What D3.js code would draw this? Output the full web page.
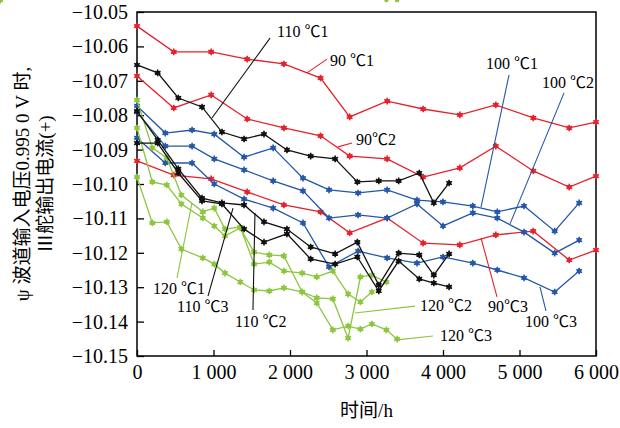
<!DOCTYPE html>
<html>
<head>
<meta charset="utf-8">
<script src="https://cdn.jsdelivr.net/npm/d3@7"></script>
<style>
body { margin: 0; background: #fff; }
svg { display: block; font-family: "Liberation Serif", "Noto Sans CJK SC", serif; }
</style>
</head>
<body>
<main></main>
<script>
// Часы наработки для каждой группы температур
const hours_90 = [0, 480, 970, 1440, 1920, 2400, 2780, 3270, 3740, 4220, 4690, 5180, 5650, 6000];
const hours_100 = [0, 370, 720, 1010, 1400, 1780, 2170, 2510, 2890, 3270, 3660, 4000, 4390, 4710, 5060, 5460, 5780];
const hours_110 = [0, 270, 540, 850, 1110, 1400, 1660, 1960, 2270, 2590, 2880, 3160, 3420, 3690, 3880, 4080];
const hours_120 = [0, 200, 390, 580, 860, 1010, 1150, 1350, 1530, 1730, 1920, 2160, 2350, 2560, 2760, 2920, 3070, 3260, 3400];

const v_90_1 = [-10.0541, -10.0616, -10.0616, -10.0637, -10.0651, -10.0692, -10.0805, -10.0759, -10.0782, -10.0799, -10.0770, -10.0808, -10.0837, -10.0820];
const v_90_2 = [-10.0686, -10.0779, -10.0741, -10.0811, -10.0837, -10.0860, -10.0919, -10.0927, -10.0980, -10.0953, -10.0890, -10.0962, -10.1009, -10.0977];
const v_90_3 = [-10.0933, -10.0974, -10.0985, -10.1023, -10.1061, -10.1081, -10.1142, -10.1099, -10.1172, -10.1177, -10.1148, -10.1137, -10.1221, -10.1192];

const v_100_1 = [-10.0773, -10.0852, -10.0843, -10.0855, -10.0922, -10.0895, -10.0983, -10.1017, -10.1026, -10.1017, -10.1047, -10.1052, -10.1064, -10.1081, -10.1064, -10.1137, -10.1055];
const v_100_2 = [-10.0791, -10.0890, -10.0890, -10.0927, -10.0959, -10.0991, -10.1020, -10.1099, -10.1090, -10.1099, -10.1058, -10.1122, -10.1084, -10.1099, -10.1140, -10.1201, -10.1163];
const v_100_3 = [-10.0866, -10.0939, -10.0939, -10.1000, -10.1044, -10.1070, -10.1113, -10.1241, -10.1195, -10.1215, -10.1230, -10.1212, -10.1230, -10.1250, -10.1273, -10.1314, -10.1253];

const v_110_1 = [-10.0654, -10.0677, -10.0750, -10.0776, -10.0849, -10.0869, -10.0855, -10.0901, -10.0919, -10.0927, -10.0994, -10.0991, -10.0991, -10.0968, -10.1055, -10.0997];
const v_110_2 = [-10.0788, -10.0872, -10.0956, -10.1041, -10.1055, -10.1061, -10.1110, -10.1131, -10.1183, -10.1203, -10.1169, -10.1294, -10.1201, -10.1206, -10.1265, -10.1203];
const v_110_3 = [-10.0881, -10.0881, -10.0968, -10.1049, -10.1058, -10.1131, -10.1169, -10.1145, -10.1218, -10.1233, -10.1212, -10.1311, -10.1224, -10.1276, -10.1288, -10.1299];

const v_120_1 = [-10.0756, -10.0895, -10.0924, -10.1032, -10.1081, -10.1070, -10.1131, -10.1125, -10.1233, -10.1227, -10.1253, -10.1259, -10.1270, -10.1253, -10.1320, -10.1343, -10.1314];
const v_120_2 = [-10.0837, -10.0994, -10.1003, -10.1058, -10.1099, -10.1122, -10.1151, -10.1128, -10.1198, -10.1206, -10.1209, -10.1314, -10.1331, -10.1334, -10.1448, -10.1270, -10.1265, -10.1285];
const v_120_3 = [-10.0980, -10.1113, -10.1110, -10.1189, -10.1215, -10.1233, -10.1259, -10.1285, -10.1308, -10.1311, -10.1302, -10.1314, -10.1346, -10.1424, -10.1413, -10.1422, -10.1407, -10.1424, -10.1451];

const x_ticks = [0, 1000, 2000, 3000, 4000, 5000, 6000];
const y_ticks = [-10.05, -10.06, -10.07, -10.08, -10.09, -10.10, -10.11, -10.12, -10.13, -10.14, -10.15];

const colors = { "90": "#e3222b", "100": "#2557a8", "110": "#111111", "120": "#8cc63e" };

const series = [
    { group: "90", hours: hours_90, values: v_90_1 },
    { group: "90", hours: hours_90, values: v_90_2 },
    { group: "90", hours: hours_90, values: v_90_3 },
    { group: "100", hours: hours_100, values: v_100_1 },
    { group: "100", hours: hours_100, values: v_100_2 },
    { group: "100", hours: hours_100, values: v_100_3 },
    { group: "120", hours: hours_120, values: v_120_1 },
    { group: "120", hours: hours_120, values: v_120_2 },
    { group: "120", hours: hours_120, values: v_120_3 },
    { group: "110", hours: hours_110, values: v_110_1 },
    { group: "110", hours: hours_110, values: v_110_2 },
    { group: "110", hours: hours_110, values: v_110_3 }
];

// Подписи кривых: текст, точка подписи и выноска (в единицах данных)
const labels = [
    { text: "110 ℃1", group: "110", at: [1830, -10.0573], from: [1739, -10.0576], to: [980, -10.0808] },
    { text: "90 ℃1", group: "90", at: [2523, -10.0657], from: [2484, -10.0637], to: [2222, -10.0677] },
    { text: "90℃2", group: "90", at: [2863, -10.0887], from: [2810, -10.0881], to: [2627, -10.0892] },
    { text: "100 ℃1", group: "100", at: [4562, -10.0666], from: [4863, -10.0683], to: [4497, -10.1067] },
    { text: "100 ℃2", group: "100", at: [5294, -10.0721], from: [5582, -10.0735], to: [4876, -10.1116] },
    { text: "90℃3", group: "90", at: [4588, -10.1372], from: [4497, -10.1157], to: [4706, -10.1328] },
    { text: "100 ℃3", group: "100", at: [5072, -10.1416], from: [5268, -10.1299], to: [5346, -10.1369] },
    { text: "120 ℃2", group: "120", at: [3699, -10.1369], from: [3634, -10.1355], to: [2850, -10.1375] },
    { text: "120 ℃3", group: "120", at: [3961, -10.1456], from: [3869, -10.1442], to: [3399, -10.1453] },
    { text: "120 ℃1", group: "120", at: [209, -10.1320], from: [523, -10.1273], to: [719, -10.1055] },
    { text: "110 ℃3", group: "110", at: [523, -10.1372], from: [928, -10.1326], to: [1255, -10.1070] },
    { text: "110 ℃2", group: "110", at: [1281, -10.1416], from: [1516, -10.1366], to: [1542, -10.1084] }
];

var width = 620, height = 428;
var margin = { top: 12, right: 24, bottom: 72, left: 137 };

var svg = d3.select("main").append("svg")
    .attr("width", width)
    .attr("height", height);

var x_scale = d3.scaleLinear()
    .domain([0, 6000])
    .range([margin.left, width - margin.right]);
var y_scale = d3.scaleLinear()
    .domain([-10.15, -10.05])
    .range([height - margin.bottom, margin.top]);

var fmt_x = d3.formatLocale({ decimal: ".", thousands: " ", grouping: [3], currency: ["", ""], minus: "\u2212" }).format(",d");

// Оси с засечками внутрь
var x_axis = svg.append("g")
    .attr("transform", "translate(0," + (height - margin.bottom) + ")")
    .call(d3.axisBottom(x_scale).tickValues(x_ticks).tickFormat(fmt_x).tickSizeInner(-6).tickSizeOuter(0).tickPadding(9));
var y_axis = svg.append("g")
    .attr("transform", "translate(" + margin.left + ",0)")
    .call(d3.axisLeft(y_scale).tickValues(y_ticks).tickFormat(d3.format(".2f")).tickSizeInner(-7).tickSizeOuter(0).tickPadding(9));

svg.selectAll(".domain").remove();
svg.selectAll(".tick line").attr("stroke", "#000").attr("stroke-width", 1.3);
svg.selectAll(".tick text")
    .attr("fill", "#000")
    .style("font-size", "20px")
    .style("font-family", "'Liberation Serif', serif");

svg.append("rect")
    .attr("x", margin.left)
    .attr("y", margin.top)
    .attr("width", width - margin.left - margin.right)
    .attr("height", height - margin.top - margin.bottom)
    .attr("fill", "none")
    .attr("stroke", "#000")
    .attr("stroke-width", 1.5);

var line = d3.line()
    .x(function(d) { return x_scale(d[0]); })
    .y(function(d) { return y_scale(d[1]); });

var star = d3.symbol().type(d3.symbolAsterisk).size(30);

series.forEach(function(s) {
    let pts = s.hours.map(function(h, i) { return [h, s.values[i]]; });
    let c = colors[s.group];
    svg.append("path")
        .datum(pts)
        .attr("d", line)
        .attr("fill", "none")
        .attr("stroke", c)
        .attr("stroke-width", 1.3);
    let g = svg.append("g");
    g.selectAll("path")
        .data(pts)
        .enter()
        .append("path")
        .attr("d", star)
        .attr("transform", function(d) { return "translate(" + x_scale(d[0]) + "," + y_scale(d[1]) + ")"; })
        .attr("fill", "none")
        .attr("stroke", c)
        .attr("stroke-width", 1.6);
    g.selectAll("circle")
        .data(pts)
        .enter()
        .append("circle")
        .attr("cx", function(d) { return x_scale(d[0]); })
        .attr("cy", function(d) { return y_scale(d[1]); })
        .attr("r", 2.2)
        .attr("fill", c);
});

// Выноски и подписи
labels.forEach(function(l) {
    svg.append("line")
        .attr("x1", x_scale(l.from[0]))
        .attr("y1", y_scale(l.from[1]))
        .attr("x2", x_scale(l.to[0]))
        .attr("y2", y_scale(l.to[1]))
        .attr("stroke", colors[l.group])
        .attr("stroke-width", 1.1);
    svg.append("text")
        .attr("x", x_scale(l.at[0]))
        .attr("y", y_scale(l.at[1]))
        .style("font-size", "16px")
        .attr("fill", "#000")
        .text(l.text);
});

svg.append("text")
    .attr("x", (margin.left + width - margin.right) / 2)
    .attr("y", 417)
    .attr("text-anchor", "middle")
    .style("font-size", "19px")
    .text("时间/h");

var y_title = svg.append("text")
    .attr("transform", "translate(0," + (margin.top + (height - margin.top - margin.bottom) / 2) + ") rotate(-90)")
    .attr("text-anchor", "middle")
    .style("font-size", "19px");
y_title.append("tspan").attr("x", 0).attr("y", 29).text("ψ 波道输入电压0.995 0 V 时,");
y_title.append("tspan").attr("x", 0).attr("y", 52).text("Ⅲ舵输出电流(+)");
</script>
</body>
</html>
